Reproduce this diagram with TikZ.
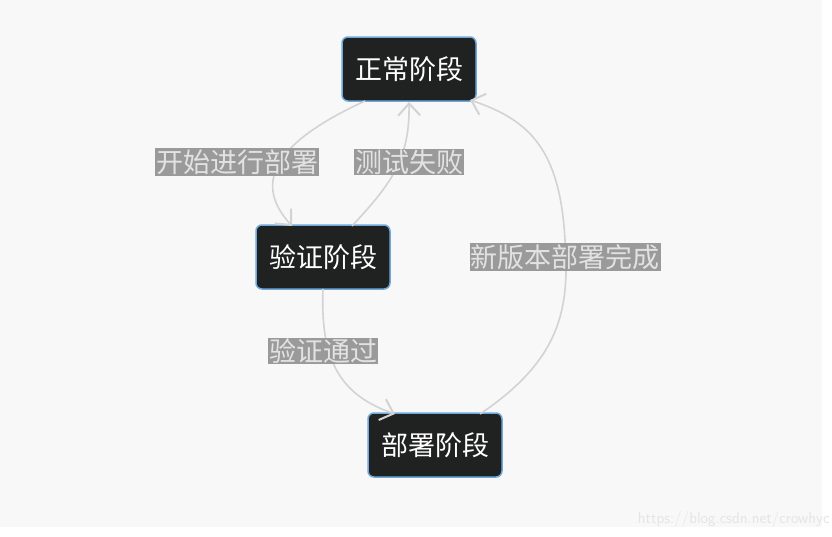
\documentclass[tikz,border=0pt]{standalone}
\usepackage{fontspec}
\newfontfamily\cjk{Noto Sans CJK SC}
\usetikzlibrary{arrows.meta}
\definecolor{bg}{HTML}{F8F8F8}
\definecolor{nodefill}{HTML}{202221}
\definecolor{nodeborder}{HTML}{6FA8DC}
\definecolor{edgec}{HTML}{D3D3D3}
\definecolor{lblfill}{HTML}{9A9A9A}
\definecolor{lbltext}{HTML}{E2E2E2}
\tikzset{
 state/.style={draw=nodeborder,line width=1.5pt,fill=nodefill,rounded corners=6pt,minimum width=134pt,minimum height=64pt,text=white,font=\cjk\fontsize{27}{30}\selectfont},
 lbl/.style={fill=lblfill,text=lbltext,inner sep=1pt,font=\cjk\fontsize{27}{30}\selectfont},
 edge/.style={draw=edgec,line width=1.6pt,-{Straight Barb[length=12pt,width=22pt,line width=2pt]}}
}
\begin{document}
\begin{tikzpicture}[x=1pt,y=-1pt]
\useasboundingbox (0,0) rectangle (832,536);
\fill[white] (0,0) rectangle (832,536);
\fill[bg] (0,0) rectangle (822,527);
\node[state] (n) at (409,69) {正常阶段};
\node[state] (v) at (323,257) {验证阶段};
\node[state] (d) at (435,445) {部署阶段};
\coordinate (a1) at (237,162);
\coordinate (a2) at (409,162);
\coordinate (a3) at (565,257);
\coordinate (a4) at (323,351);
\draw[edge] (365,101) .. controls (280,140) and (250,180) .. (292,226);
\draw[edge] (352,226) .. controls (390,185) and (410,160) .. (409,102);
\draw[edge] (323,289) .. controls (320,360) and (340,395) .. (395,414);
\draw[edge] (480,414) .. controls (560,360) and (570,310) .. (565,240) .. controls (560,150) and (530,120) .. (470,100);
\node[lbl] at (a1) {开始进行部署};
\node[lbl] at (a2) {测试失败};
\node[lbl] at (a3) {新版本部署完成};
\node[lbl] at (a4) {验证通过};
\node[anchor=south east,text=white!80!gray,font=\sffamily\fontsize{16}{17}\selectfont,inner sep=2pt] at (832,530) {https://blog.csdn.net/crowhyc};
\end{tikzpicture}
\end{document}
